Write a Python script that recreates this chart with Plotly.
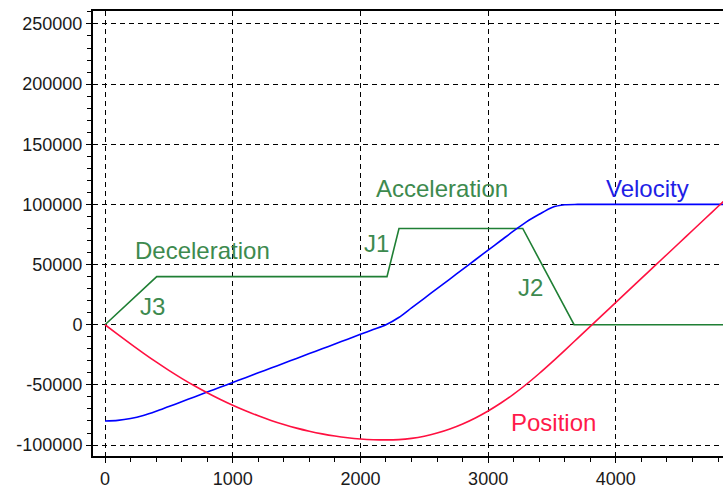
import plotly.graph_objects as go

# Acceleration (piecewise linear breakpoints)
acc_x = [0, 405, 2208, 2302, 3271, 3673, 4900]
acc_y = [0, 40000, 40000, 80000, 80000, 0, 0]

# Velocity and position sampled every 100 units
t_x = [i * 100 for i in range(50)]
vel_y = [-80000, -79500, -78000, -75500, -72000, -68000, -64000, -60000, -56000, -52000,
         -48000, -44000, -40000, -36000, -32000, -28000, -24000, -20000, -16000, -12000,
         -8000, -4000, 0, 6000, 14000, 22000, 30000, 38000, 46000, 54000,
         62000, 70000, 78000, 85500, 91800, 97500, 99700, 100000, 100000, 100000,
         100000, 100000, 100000, 100000, 100000, 100000, 100000, 100000, 100000, 100000]
pos_y = [0, -7983, -15867, -23550, -30933, -37933, -44533, -50733, -56533, -61933,
         -66933, -71533, -75733, -79533, -82933, -85933, -88533, -90733, -92533, -93933,
         -94933, -95533, -95733, -95466, -94466, -92666, -90066, -86666, -82466, -77466,
         -71666, -65066, -57666, -49467, -40539, -31072, -21264, -11315, -1355, 8605,
         18565, 28525, 38485, 48445, 58405, 68365, 78325, 88285, 98245, 108205]

labels = [
    ("Acceleration", 2639, 113400, "#3d8a4e"),
    ("Velocity", 4244, 113400, "#1e1ee6"),
    ("Deceleration", 760, 62000, "#3d8a4e"),
    ("J3", 368, 14900, "#3d8a4e"),
    ("J1", 2122, 67900, "#3d8a4e"),
    ("J2", 3328, 30600, "#3d8a4e"),
    ("Position", 3508, -81100, "#ff1a4a"),
]

fig = go.Figure()
fig.add_trace(go.Scatter(x=acc_x, y=acc_y, mode="lines",
                         line=dict(color="#1f7f34", width=1.6)))
fig.add_trace(go.Scatter(x=t_x, y=vel_y, mode="lines",
                         line=dict(color="#0000ff", width=1.6, shape="spline", smoothing=0.8)))
fig.add_trace(go.Scatter(x=t_x, y=pos_y, mode="lines",
                         line=dict(color="#ff1040", width=1.6, shape="spline")))

for txt, x, y, c in labels:
    fig.add_annotation(x=x, y=y, text=txt, showarrow=False,
                       font=dict(size=24, color=c, family="Liberation Sans, Arial"))

fig.update_layout(
    width=723, height=489,
    margin=dict(l=93, r=0, t=11, b=33, autoexpand=False),
    paper_bgcolor="white", plot_bgcolor="white",
    showlegend=False,
    font=dict(family="Liberation Sans, Arial", size=18, color="#1a1a1a"),
)
fig.update_xaxes(
    range=[-94, 4839], tickmode="array", tickvals=[0, 1000, 2000, 3000, 4000],
    showgrid=True, gridcolor="black", griddash="5px,4px", gridwidth=1.2,
    showline=True, linecolor="black", linewidth=2, mirror=True,
    ticks="outside", ticklen=5, tickcolor="black", zeroline=False, automargin=False,
    minor=dict(dtick=200, tick0=0, ticks="outside", ticklen=4, tickcolor="black", showgrid=False),
)
fig.update_yaxes(
    range=[-109100, 260760], tickmode="array",
    tickvals=[-100000, -50000, 0, 50000, 100000, 150000, 200000, 250000],
    ticktext=["-100000", "-50000", "0", "50000", "100000", "150000", "200000", "250000"],
    showgrid=True, gridcolor="black", griddash="5px,4px", gridwidth=1.2,
    showline=True, linecolor="black", linewidth=2, mirror=False,
    ticks="outside", ticklen=5, tickcolor="black", zeroline=False, automargin=False,
    minor=dict(dtick=10000, tick0=0, ticks="outside", ticklen=4, tickcolor="black", showgrid=False),
)

fig.write_html("out.html", config={"displayModeBar": False},
               post_script="document.body.style.margin='0';document.body.style.overflow='hidden';")
